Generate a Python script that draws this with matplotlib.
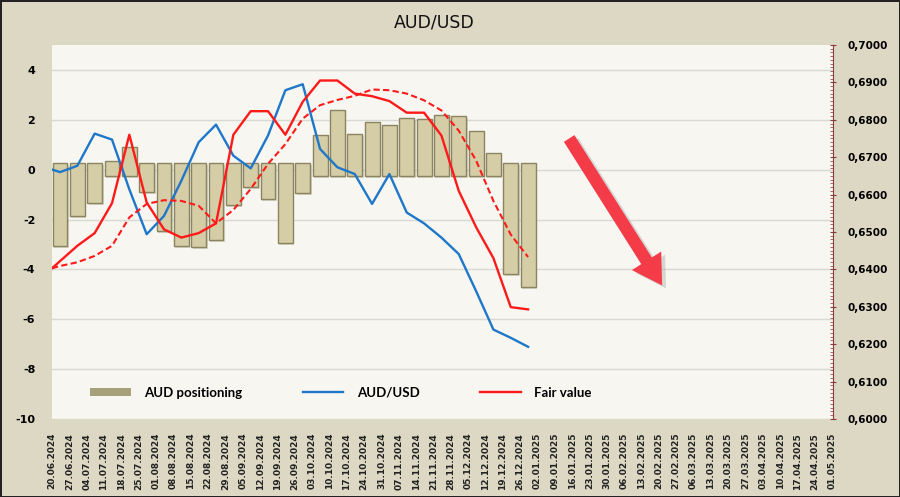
import numpy as np
import matplotlib
matplotlib.use("Agg")
import matplotlib.pyplot as plt
from matplotlib.patches import Patch
from matplotlib.lines import Line2D
from matplotlib.ticker import MultipleLocator, FuncFormatter

plt.rcParams["axes.unicode_minus"] = False

# weekly dates on the x axis
dates = ["20.06.2024", "27.06.2024", "04.07.2024", "11.07.2024", "18.07.2024", "25.07.2024",
         "01.08.2024", "08.08.2024", "15.08.2024", "22.08.2024", "29.08.2024", "05.09.2024",
         "12.09.2024", "19.09.2024", "26.09.2024", "03.10.2024", "10.10.2024", "17.10.2024",
         "24.10.2024", "31.10.2024", "07.11.2024", "14.11.2024", "21.11.2024", "28.11.2024",
         "05.12.2024", "12.12.2024", "19.12.2024", "26.12.2024", "02.01.2025", "09.01.2025",
         "16.01.2025", "23.01.2025", "30.01.2025", "06.02.2025", "13.02.2025", "20.02.2025",
         "27.02.2025", "06.03.2025", "13.03.2025", "20.03.2025", "27.03.2025", "03.04.2025",
         "10.04.2025", "17.04.2025", "24.04.2025", "01.05.2025"]

# AUD positioning (left axis)
positioning = [-3.05, -1.87, -1.35, 0.35, 0.9, -0.91, -2.45, -3.06, -3.12, -2.82,
               -1.41, -0.71, -1.17, -2.96, -0.92, 1.37, 2.4, 1.41, 1.9, 1.81,
               2.08, 2.04, 2.21, 2.16, 1.53, 0.67, -4.2, -4.7]

# right axis, first value = start of the line at the 20.06 tick
audusd = [0.6667, 0.6660, 0.6677, 0.6763, 0.6747, 0.6614, 0.6494, 0.6543, 0.6637, 0.6740,
          0.6787, 0.6704, 0.6670, 0.6758, 0.6879, 0.6895, 0.6722, 0.6673, 0.6655, 0.6575,
          0.6655, 0.6552, 0.6523, 0.6485, 0.6441, 0.6342, 0.6239, 0.6217, 0.6193]
fair_value = [0.6403, 0.6422, 0.6463, 0.6497, 0.6577, 0.6760, 0.6579, 0.6507, 0.6485, 0.6497,
              0.6523, 0.6760, 0.6823, 0.6823, 0.6760, 0.6848, 0.6905, 0.6905, 0.6870, 0.6863,
              0.6850, 0.6819, 0.6819, 0.6758, 0.6610, 0.6513, 0.6430, 0.6299, 0.6293]
fair_avg = [0.6403, 0.6409, 0.6419, 0.6436, 0.6463, 0.6539, 0.6575, 0.6585, 0.6583, 0.6570,
            0.6523, 0.6559, 0.6615, 0.6682, 0.6735, 0.6803, 0.6839, 0.6853, 0.6864, 0.6881,
            0.6879, 0.6870, 0.6852, 0.6825, 0.6771, 0.6691, 0.6583, 0.6493, 0.6433]

BG = "#ddd8c4"
PLOT_BG = "#f7f6f1"

fig = plt.figure(figsize=(9, 4.97), dpi=100)
fig.patch.set_facecolor(BG)
fig.patch.set_edgecolor("#222222")
fig.patch.set_linewidth(2)

ax = fig.add_axes([0.0578, 0.157, 0.868, 0.7525])
ax.set_facecolor(PLOT_BG)

bar_x = np.arange(len(positioning))
tick_x = np.arange(len(dates)) - 0.46
line_x = np.concatenate([[tick_x[0]], bar_x])

# bars start a little past zero, like the bevelled excel bars
pos = np.array(positioning)
base = np.where(pos < 0, 0.25, -0.25)
# soft shadow, then the bar itself
ax.bar(bar_x + 0.08, pos - base, bottom=base - 0.08, width=0.86,
       color="#b8b49a", linewidth=0, alpha=0.5, zorder=1.9)
ax.bar(bar_x, pos - base, bottom=base, width=0.86,
       color="#d4cda6", edgecolor="#8a8560", linewidth=1.0, zorder=2)

ax.set_xlim(tick_x[0], 44.6)
ax.set_ylim(-10, 5)
ax.set_yticks(np.arange(-10, 5, 2))
ax.grid(axis="y", color="#d8d8d4", linewidth=1, zorder=0)
ax.set_axisbelow(True)
ax.tick_params(axis="y", length=0, pad=12, labelsize=8)
for lab in ax.get_yticklabels():
    lab.set_fontweight("bold")

ax.set_xticks(tick_x)
ax.set_xticklabels(dates, rotation=90, fontsize=6.5, fontweight="bold", color="#222222")
ax.tick_params(axis="x", length=0, pad=10)
for s in ["top", "bottom", "left", "right"]:
    ax.spines[s].set_visible(False)

ax2 = ax.twinx()
ax2.set_ylim(0.60, 0.70)
ax2.set_xlim(tick_x[0], 44.6)
ax2.plot(line_x, audusd, color="#1f77c9", linewidth=1.7, zorder=4)
ax2.plot(line_x, fair_value, color="#ff1a1a", linewidth=1.7, zorder=4)
ax2.plot(line_x, fair_avg, color="#ff1a1a", linewidth=1.5, linestyle=(0, (3, 1.6)), zorder=4)
ax2.yaxis.set_major_locator(MultipleLocator(0.01))
ax2.yaxis.set_minor_locator(MultipleLocator(0.001))
ax2.yaxis.set_major_formatter(FuncFormatter(lambda v, p: f"{v:.4f}".replace(".", ",")))
ax2.tick_params(axis="y", which="major", direction="inout", length=5, color="#8b3a3a",
                labelsize=7.5, pad=8)
ax2.tick_params(axis="y", which="minor", direction="in", length=2.5, color="#a05050")
for lab in ax2.get_yticklabels():
    lab.set_fontweight("bold")
for s in ["top", "bottom", "left"]:
    ax2.spines[s].set_visible(False)
ax2.spines["right"].set_color("#8b3a3a")
ax2.spines["right"].set_linewidth(0.8)

# big red arrow with a soft shadow
arrow_kw = dict(width=9, headwidth=25, headlength=21, edgecolor="none")
ax2.annotate("", xy=(0.786, 0.349), xytext=(0.667, 0.742), xycoords="axes fraction",
             arrowprops=dict(facecolor="#9a9a9a", alpha=0.35, **arrow_kw), zorder=5)
ax2.annotate("", xy=(0.781, 0.357), xytext=(0.662, 0.750), xycoords="axes fraction",
             arrowprops=dict(facecolor="#f43c48", capstyle="round", **arrow_kw), zorder=6)

handles = [Patch(facecolor="#a7a17a", edgecolor="none"),
           Line2D([], [], color="#1f77c9", linewidth=1.7),
           Line2D([], [], color="#ff1a1a", linewidth=1.7)]
ax2.legend(handles, ["AUD positioning", "AUD/USD", "Fair value"], ncol=3,
           loc="center left", bbox_to_anchor=(0.033, 0.07), frameon=False,
           prop={"family": "Lato", "weight": "bold", "size": 9.5},
           handlelength=3.1, handleheight=0.6, handletextpad=1.0, columnspacing=4.6)

fig.text(0.483, 0.955, "AUD/USD", ha="center", va="center", fontsize=12.5, color="#111111")

fig.savefig("out.png", dpi=100, facecolor=BG, edgecolor="#222222")
